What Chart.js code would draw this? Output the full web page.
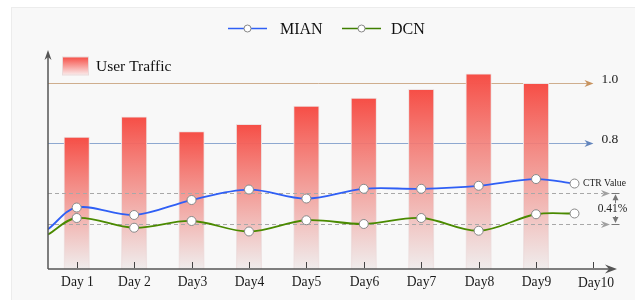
<!DOCTYPE html>
<html>
<head>
<meta charset="utf-8">
<script src="https://cdn.jsdelivr.net/npm/chart.js@4"></script>
<style>
html,body{margin:0;padding:0;background:#fff;}
#wrap{width:635px;height:300px;}
</style>
</head>
<body>
<div id="wrap"><canvas id="c" width="635" height="300"></canvas></div>
<script>
// ---- data ----
const dayLabels = ["Day 1","Day 2","Day3","Day4","Day5","Day6","Day7","Day8","Day9","Day10"];
const dayPos = [1,2,3,4,5,6,7,8,9,10];
const trafficX = [1,2,3,4,5,6,7,8,9];
const traffic = [0.819,0.887,0.837,0.862,0.923,0.950,0.980,1.032,1.000];
const ctrX = [0.5,1,2,3,4,5,6,7,8,9,9.67];
const mian = [2.93,3.22,3.12,3.32,3.46,3.34,3.47,3.47,3.51,3.60,3.54];
const dcn  = [2.86,3.08,2.95,3.04,2.90,3.05,3.00,3.08,2.91,3.13,3.14];
const trafficRefs = [1.0, 0.8];
const trafficRefLabels = ["1.0","0.8"];
const ctrRefs = [3.41, 3.00];
const gapLabel = "0.41%";

const SERIF = '"Liberation Serif","Times New Roman",serif';

function barGradient(ctx){
  const chart = ctx.chart;
  const area = chart.chartArea;
  if(!area || !chart.scales.yT || ctx.raw == null) return '#f5645c';
  const top = chart.scales.yT.getPixelForValue(ctx.raw.y);
  const g = chart.ctx.createLinearGradient(0, top, 0, area.bottom);
  g.addColorStop(0, 'rgba(246,78,70,1)');
  g.addColorStop(0.45, 'rgba(242,140,134,0.88)');
  g.addColorStop(1, 'rgba(238,234,234,0.85)');
  return g;
}

function arrowRight(c, x, y, len, half, color){
  c.fillStyle = color;
  c.beginPath();
  c.moveTo(x, y);
  c.lineTo(x-len, y-half);
  c.lineTo(x-len*0.7, y);
  c.lineTo(x-len, y+half);
  c.closePath();
  c.fill();
}

const decor = {
  id:'decor',
  beforeDraw(chart){
    const c = chart.ctx;
    c.save();
    c.fillStyle = '#ffffff';
    c.fillRect(0,0,chart.width,chart.height);
    c.fillStyle = '#f8f8f8';
    c.fillRect(11,7,chart.width-11,chart.height-7);
    c.strokeStyle = '#ececec';
    c.lineWidth = 1;
    c.strokeRect(11.5,7.5,chart.width-11,chart.height-7);
    c.restore();
  },
  beforeDatasetsDraw(chart){
    const c = chart.ctx, a = chart.chartArea;
    const x = chart.scales.x, yT = chart.scales.yT;
    const endX = x.getPixelForValue(dayPos[dayPos.length-1]);
    const cols = ['#cfae8e','#8ea8d0'];
    const arrowCols = ['#c8935e','#6285bd'];
    c.save();
    trafficRefs.forEach((v,i)=>{
      const py = Math.round(yT.getPixelForValue(v))+0.5;
      c.strokeStyle = cols[i];
      c.lineWidth = 1;
      c.beginPath(); c.moveTo(a.left, py); c.lineTo(endX-4, py); c.stroke();
      arrowRight(c, endX, py, 9, 3.5, arrowCols[i]);
      c.fillStyle = '#222';
      c.font = '13.5px ' + SERIF;
      c.textBaseline = 'middle';
      c.textAlign = 'left';
      c.fillText(trafficRefLabels[i], endX+8, py-4);
    });
    c.restore();
  },
  afterDatasetDraw(chart, args){
    if(args.index !== 0) return;
    const c = chart.ctx, a = chart.chartArea;
    const yC = chart.scales.yC;
    c.save();
    ctrRefs.forEach(v=>{
      const py = Math.round(yC.getPixelForValue(v))+0.5;
      c.strokeStyle = '#a8a8a8';
      c.lineWidth = 1;
      c.setLineDash([4,3]);
      c.beginPath(); c.moveTo(a.left, py); c.lineTo(603, py); c.stroke();
      c.setLineDash([]);
      arrowRight(c, 610, py, 9, 3.5, '#a0a0a0');
    });
    c.restore();
  },
  afterDatasetsDraw(chart){
    const c = chart.ctx, a = chart.chartArea;
    const x = chart.scales.x, yC = chart.scales.yC;
    c.save();
    // axes
    c.strokeStyle = '#555';
    c.fillStyle = '#555';
    c.lineWidth = 1.5;
    c.beginPath();
    c.moveTo(a.left, a.bottom); c.lineTo(a.left, a.top+6);
    c.moveTo(a.left, a.bottom); c.lineTo(a.right-6, a.bottom);
    c.stroke();
    c.beginPath();
    c.moveTo(a.left, a.top); c.lineTo(a.left-3.5, a.top+10); c.lineTo(a.left, a.top+7); c.lineTo(a.left+3.5, a.top+10); c.closePath(); c.fill();
    c.beginPath();
    c.moveTo(a.right, a.bottom); c.lineTo(a.right-12, a.bottom-4.5); c.lineTo(a.right-8, a.bottom); c.lineTo(a.right-12, a.bottom+4.5); c.closePath(); c.fill();
    // ticks & labels
    c.lineWidth = 1;
    c.strokeStyle = '#444';
    c.fillStyle = '#1a1a1a';
    c.font = '13.6px ' + SERIF;
    c.textAlign = 'center';
    c.textBaseline = 'middle';
    dayPos.forEach((d,i)=>{
      const px = Math.round(x.getPixelForValue(d))+0.5;
      c.beginPath(); c.moveTo(px, a.bottom-7); c.lineTo(px, a.bottom-1); c.stroke();
      const last = i === dayPos.length-1;
      c.fillText(dayLabels[i], px + (last?2.5:0), a.bottom + 13 + (last?1:0));
    });
    // CTR label
    c.font = '9.6px ' + SERIF;
    c.textAlign = 'left';
    c.fillStyle = '#222';
    const lastIdx = ctrX.length-1;
    c.fillText('CTR Value', x.getPixelForValue(ctrX[lastIdx])+8.5, yC.getPixelForValue(mian[lastIdx]));
    // gap bracket
    const yTop = yC.getPixelForValue(ctrRefs[0]);
    const yBot = yC.getPixelForValue(ctrRefs[1]);
    const bx = 615.5;
    c.strokeStyle = '#777'; c.fillStyle = '#777'; c.lineWidth = 1;
    c.beginPath();
    c.moveTo(bx-4, Math.round(yTop)+0.5); c.lineTo(bx+4, Math.round(yTop)+0.5);
    c.moveTo(bx-4, Math.round(yBot)+0.5); c.lineTo(bx+4, Math.round(yBot)+0.5);
    c.moveTo(bx, yTop+5); c.lineTo(bx, yTop+10);
    c.moveTo(bx, yBot-5); c.lineTo(bx, yBot-8);
    c.stroke();
    c.beginPath(); c.moveTo(bx, yTop+1); c.lineTo(bx-3, yTop+7); c.lineTo(bx+3, yTop+7); c.closePath(); c.fill();
    c.beginPath(); c.moveTo(bx, yBot-1); c.lineTo(bx-3, yBot-7); c.lineTo(bx+3, yBot-7); c.closePath(); c.fill();
    c.fillStyle = '#222';
    c.font = '11.5px ' + SERIF;
    c.textAlign = 'center';
    c.fillText(gapLabel, 612.5, (yTop+yBot)/2);
    // legends
    c.textAlign = 'left';
    const leg = [{label:'MIAN', color:'#2f5ff5', x0:228, x1:267, tx:280},
                 {label:'DCN', color:'#3f7f00', x0:342, x1:381, tx:391}];
    leg.forEach(l=>{
      c.strokeStyle = l.color; c.lineWidth = 1.5;
      c.beginPath(); c.moveTo(l.x0, 28.5); c.lineTo(l.x1, 28.5); c.stroke();
      c.beginPath(); c.arc((l.x0+l.x1)/2, 28.5, 3.5, 0, Math.PI*2);
      c.fillStyle = '#fff'; c.fill();
      c.strokeStyle = '#888'; c.lineWidth = 1; c.stroke();
      c.fillStyle = '#111';
      c.font = '16px ' + SERIF;
      c.fillText(l.label, l.tx, 29.5);
    });
    // User Traffic swatch
    const g = c.createLinearGradient(0, 57, 0, 75);
    g.addColorStop(0, 'rgba(246,78,70,1)');
    g.addColorStop(1, 'rgba(250,235,235,1)');
    c.fillStyle = g;
    c.fillRect(62.5, 57, 26, 18);
    c.strokeStyle = '#eadada'; c.lineWidth = 1;
    c.strokeRect(62.5, 57, 26, 18);
    c.fillStyle = '#111';
    c.font = '15.5px ' + SERIF;
    c.fillText('User Traffic', 96, 67);
    c.restore();
  }
};

const pointR = ctrX.map((v,i)=> i===0 ? 0 : 4.5);

new Chart(document.getElementById('c'), {
  type: 'bar',
  data: {
    datasets: [
      {
        type:'bar', label:'User Traffic',
        data: trafficX.map((v,i)=>({x:v, y:traffic[i]})),
        xAxisID:'x', yAxisID:'yT',
        backgroundColor: barGradient,
        borderColor:'#eee2e2', borderWidth:1,
        barThickness:25.5, order:3
      },
      {
        type:'line', label:'MIAN',
        data: ctrX.map((v,i)=>({x:v, y:mian[i]})),
        xAxisID:'x', yAxisID:'yC',
        borderColor:'#2f5ff5', borderWidth:1.8, tension:0.35,
        pointRadius:pointR, pointBackgroundColor:'#fff', pointBorderColor:'#888', pointBorderWidth:1,
        fill:false, order:1
      },
      {
        type:'line', label:'DCN',
        data: ctrX.map((v,i)=>({x:v, y:dcn[i]})),
        xAxisID:'x', yAxisID:'yC',
        borderColor:'#4a8a00', borderWidth:1.8, tension:0.35,
        pointRadius:pointR, pointBackgroundColor:'#fff', pointBorderColor:'#888', pointBorderWidth:1,
        fill:false, order:2
      }
    ]
  },
  options: {
    responsive:false,
    animation:false,
    layout:{padding:{left:48, right:18, top:50, bottom:31}},
    plugins:{legend:{display:false}, tooltip:{enabled:false}},
    scales:{
      x:{type:'linear', min:0.5, max:10.41, offset:false, display:false, grid:{offset:false}},
      yT:{type:'linear', min:0.3747, max:1.1121, display:false},
      yC:{type:'linear', min:2.399, max:5.323, display:false}
    }
  },
  plugins:[decor]
});
</script>
</body>
</html>
